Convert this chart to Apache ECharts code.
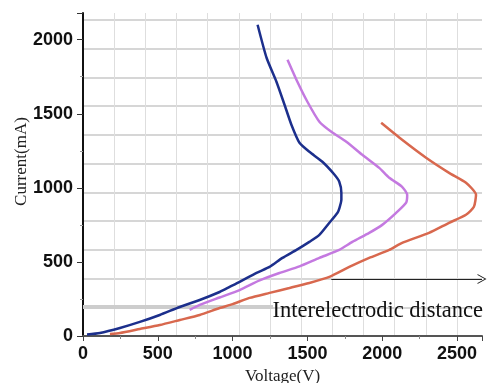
<!DOCTYPE html>
<html>
<head>
<meta charset="utf-8">
<script src="https://cdn.jsdelivr.net/npm/echarts@6/dist/echarts.min.js"></script>
<style>
html, body { margin: 0; padding: 0; background: #fff; }
#main { width: 491px; height: 383px; }
</style>
</head>
<body>
<div id="main"></div>
<script>
// voltage (V), current (mA) pairs
var blueCurve = [
  [1167, 2101], [1227, 1878], [1293, 1716], [1347, 1561], [1393, 1426], [1447, 1304],
  [1513, 1243], [1600, 1176], [1680, 1090], [1713, 1041], [1727, 966], [1727, 919],
  [1713, 860], [1700, 830], [1647, 764], [1580, 682], [1513, 635], [1427, 581],
  [1333, 527], [1247, 466], [1160, 426], [1047, 365], [980, 331], [913, 297],
  [780, 243], [647, 196], [513, 142], [380, 95], [247, 54], [113, 20], [27, 10]
];
var violetCurve = [
  [1367, 1865], [1433, 1716], [1500, 1581], [1580, 1446], [1660, 1378], [1760, 1311],
  [1867, 1223], [1980, 1135], [2047, 1068], [2133, 1007], [2167, 953], [2160, 900],
  [2093, 831], [2000, 750], [1913, 696], [1800, 635], [1713, 581], [1580, 527],
  [1447, 470], [1313, 425], [1180, 375], [1047, 310], [913, 260], [780, 210], [713, 176]
];
var orangeCurve = [
  [1993, 1439], [2133, 1324], [2293, 1203], [2447, 1101], [2560, 1034], [2627, 953],
  [2613, 872], [2560, 818], [2447, 764], [2313, 696], [2133, 628], [2047, 581],
  [1913, 527], [1780, 466], [1647, 399], [1513, 358], [1380, 324], [1247, 291],
  [1113, 257], [1000, 215], [913, 189], [780, 142], [647, 108], [513, 74],
  [380, 47], [247, 20], [180, 14]
];
var grayBand = [[0, 196], [1270, 196]];
var arrowLine = [[1660, 385], [2667, 385]];
var notePos = [1267, 169];
var noteText = 'Interelectrodic distance';

var xMax = 2667, yMax = 2180;

var chart = echarts.init(document.getElementById('main'));

var option = {
  animation: false,
  grid: { left: 83, right: 9, top: 13, bottom: 47, containLabel: false, outerBoundsMode: 'none' },
  xAxis: [
    {
      type: 'value', min: 0, max: xMax, interval: 500,
      name: 'Voltage(V)', nameLocation: 'middle', nameGap: 32,
      nameTextStyle: { fontFamily: 'Liberation Serif', fontSize: 17, color: '#222' },
      axisLine: { lineStyle: { color: '#555', width: 2 } },
      axisTick: { length: 5, lineStyle: { color: '#444' } },
      minorTick: { show: true, splitNumber: 2, length: 3, lineStyle: { color: '#888' } },
      axisLabel: {
        fontFamily: 'Liberation Sans', fontWeight: 'bold', fontSize: 18, color: '#111', margin: 9,
        showMaxLabel: false, formatter: function (v) { return String(v); }
      },
      splitLine: { show: false }
    },
    {
      type: 'value', min: 0, max: xMax, interval: 208.3,
      axisLine: { show: false }, axisTick: { show: false }, axisLabel: { show: false },
      splitLine: { show: true, showMinLine: false, showMaxLine: false, lineStyle: { color: '#dedede', width: 1 } }
    }
  ],
  yAxis: [
    {
      type: 'value', min: 0, max: yMax, interval: 500,
      name: 'Current(mA)', nameLocation: 'middle', nameGap: 53, nameMoveOverlap: false,
      nameTextStyle: { fontFamily: 'Liberation Serif', fontSize: 17, color: '#222', padding: [0, 0, 0, 26] },
      axisLine: { show: true, lineStyle: { color: '#111', width: 2 } },
      axisTick: { show: true, length: 6, lineStyle: { color: '#333' } },
      minorTick: { show: true, splitNumber: 2, length: 3, lineStyle: { color: '#999' } },
      axisLabel: {
        fontFamily: 'Liberation Sans', fontWeight: 'bold', fontSize: 18, color: '#111', margin: 10,
        showMaxLabel: false, formatter: function (v) { return String(v); }
      },
      splitLine: { show: false }
    },
    {
      type: 'value', min: 0, max: yMax, interval: 194,
      axisLine: { show: false }, axisTick: { show: false }, axisLabel: { show: false },
      splitLine: { show: true, showMinLine: false, showMaxLine: false, lineStyle: { color: '#d6d6d6', width: 2 } }
    }
  ],
  series: [
    {
      type: 'line', data: grayBand, symbol: 'none', silent: true, z: 1,
      lineStyle: { color: '#cdcdcd', width: 4 }
    },
    {
      type: 'line', data: orangeCurve, symbol: 'none', smooth: 0.2,
      lineStyle: { color: '#d8684e', width: 2.5 }
    },
    {
      type: 'line', data: violetCurve, symbol: 'none', smooth: 0.2,
      lineStyle: { color: '#c479e0', width: 2.5 }
    },
    {
      type: 'line', data: blueCurve, symbol: 'none', smooth: 0.2,
      lineStyle: { color: '#1c2f8c', width: 2.5 }
    },
    {
      type: 'line', data: [], symbol: 'none',
      markLine: {
        silent: true,
        symbol: ['none', 'path://M0,10 L5,0 L10,10 L9,10 L5,2 L1,10 Z'],
        symbolSize: [10, 9],
        label: { show: false },
        lineStyle: { color: '#222', width: 1, type: 'solid' },
        data: [[{ coord: arrowLine[0] }, { coord: arrowLine[1] }]]
      },
      markPoint: {
        silent: true,
        symbol: 'circle', symbolSize: 0,
        label: {
          show: true, position: 'right', distance: 0,
          formatter: noteText,
          fontFamily: 'Liberation Serif', fontSize: 22.5, color: '#111'
        },
        data: [{ coord: notePos }]
      }
    }
  ]
};

option && chart.setOption(option);
</script>
</body>
</html>
